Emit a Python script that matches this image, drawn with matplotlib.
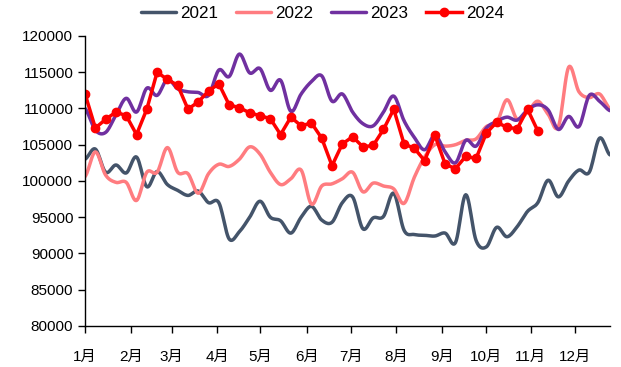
import numpy as np
import matplotlib as mpl
mpl.use('Agg')
import matplotlib.pyplot as plt

plt.rcParams['font.family'] = ['Liberation Sans', 'Noto Sans CJK SC']

# weekly values, week index 0..51
y2021 = [103000, 104400, 101200, 102200, 101100, 103300, 99200, 101300, 99500, 98700,
         98000, 98600, 97000, 97000, 92000, 93000, 95000, 97200, 95000, 94500,
         92800, 95000, 96500, 94600, 94300, 97000, 97800, 93400, 94900, 95100,
         98300, 93200, 92600, 92500, 92400, 92800, 91500, 98100, 91800, 90900,
         93600, 92300, 93700, 95800, 97000, 100100, 97800, 100000, 101500, 101200,
         105900, 103600]
y2022 = [100600, 104000, 100800, 99800, 99800, 97300, 101200, 101200, 104600, 101200,
         101000, 98300, 101000, 102300, 102000, 103000, 104700, 103700, 101200, 99500,
         100300, 101500, 96800, 99300, 99600, 100300, 101200, 98500, 99700, 99300,
         98900, 96900, 100500, 103300, 105000, 104800, 105000, 105600, 105800, 107500,
         108000, 111200, 108500, 109500, 111000, 109200, 107500, 115700, 112300, 111500,
         112000, 110000]
y2023 = [110000, 107000, 106700, 109100, 111400, 109500, 112800, 111800, 114000, 112700,
         112300, 112200, 111800, 115300, 114400, 117500, 114900, 115500, 112500, 113900,
         109600, 112000, 113700, 114500, 111000, 112000, 109500, 107900, 107600, 109500,
         111700, 108300, 106000, 104300, 106300, 104000, 102500, 105600, 104800, 107300,
         108200, 108800, 108400, 109800, 110500, 109800, 107100, 108900, 107500, 111800,
         111000, 109700]
y2024 = [112000, 107300, 108500, 109500, 109000, 106400, 109900, 115000, 114000, 113200,
         109900, 110900, 112400, 113400, 110500, 110100, 109400, 109000, 108600, 106400,
         108800, 107600, 108000, 105900, 102100, 105100, 106100, 104700, 104900, 107100,
         109900, 105100, 104500, 102800, 106300, 102300, 101700, 103400, 103100, 106600,
         108100, 107400, 107200, 109900, 106900]

month_labels = ['1月', '2月', '3月', '4月', '5月', '6月', '7月', '8月', '9月', '10月', '11月', '12月']
month_pos = [0, 4.44, 8.43, 12.83, 17.0, 21.55, 25.82, 30.2, 34.67, 38.94, 43.31, 47.62]


def smooth(y, n=12):
    # catmull-rom style smoothing like excel "smoothed line"
    y = np.asarray(y, dtype=float)
    p = np.concatenate([[y[0]], y, [y[-1]]])
    xs, ys = [], []
    for i in range(len(y) - 1):
        p0, p1, p2, p3 = p[i], p[i + 1], p[i + 2], p[i + 3]
        t = np.linspace(0, 1, n, endpoint=False)
        v = 0.5 * ((2 * p1) + (-p0 + p2) * t + (2 * p0 - 5 * p1 + 4 * p2 - p3) * t ** 2
                   + (-p0 + 3 * p1 - 3 * p2 + p3) * t ** 3)
        xs.append(i + t)
        ys.append(v)
    xs.append([len(y) - 1])
    ys.append([y[-1]])
    return np.concatenate(xs), np.concatenate(ys)


fig = plt.figure(figsize=(6.21, 3.67), dpi=100)
ax = fig.add_axes([0.137, 0.112, 0.845, 0.79])

for vals, col, lab in [(y2021, '#44546A', '2021'), (y2022, '#FF7C80', '2022'),
                       (y2023, '#7030A0', '2023')]:
    sx, sy = smooth(vals)
    ax.plot(sx, sy, color=col, lw=2.5, label=lab, solid_capstyle='round')

ax.plot(range(len(y2024)), y2024, color='#FF0000', lw=2.5, marker='o', markersize=6,
        label='2024')

ax.set_xlim(0, 51)
ax.set_ylim(80000, 120000)
ax.set_yticks(range(80000, 120001, 5000))
ax.set_xticks(month_pos)
ax.set_xticklabels(month_labels)
ax.tick_params(axis='both', direction='out', length=5, width=1, labelsize=11)
ax.tick_params(axis='x', pad=12)
ax.spines['top'].set_visible(False)
ax.spines['right'].set_visible(False)
ax.spines['left'].set_linewidth(1)
ax.spines['bottom'].set_linewidth(1)

fig.legend(loc='upper center', bbox_to_anchor=(0.519, 1.025), ncol=4, frameon=False,
           fontsize=12.3, handlelength=2.05, columnspacing=1.05, handletextpad=0.25)

fig.savefig('out.png', dpi=100)
